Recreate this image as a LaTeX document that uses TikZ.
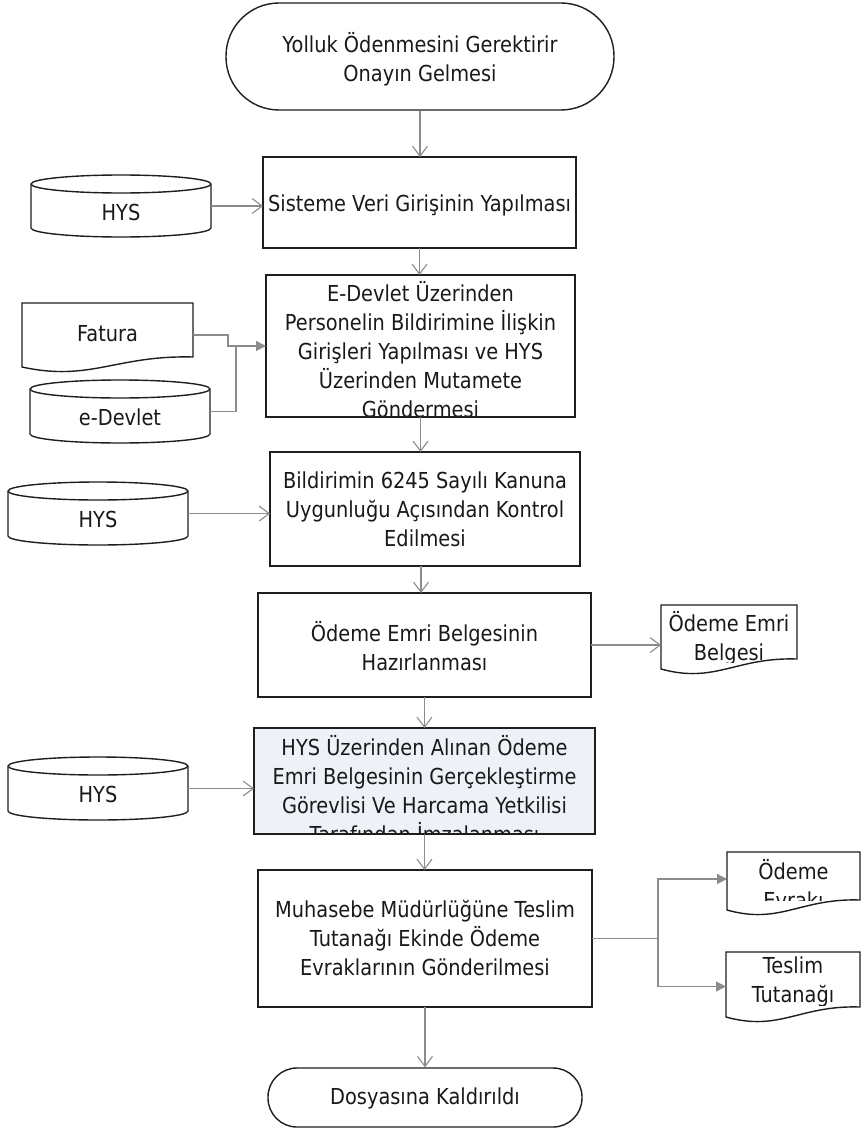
\documentclass[tikz,border=0pt]{standalone}
\usepackage{fontspec}
\setmainfont{DejaVu Sans}[FakeStretch=0.88]
\usetikzlibrary{arrows.meta,calc,fit}
\definecolor{lineC}{HTML}{1E1E1E}
\definecolor{connC}{HTML}{8C8C8C}
\definecolor{fillB}{HTML}{EEF1F7}
\tikzset{
  txt/.style={font=\fontsize{22}{29}\selectfont, align=center, inner sep=0pt, text=black!90},
  shapeline/.style={draw=lineC, line width=1.4pt},
  geo/.style={inner sep=0pt, outer sep=0pt},
  flow/.style={draw=connC, line width=1.3pt, -{Straight Barb[length=10pt,width=15pt,line width=1.1pt]}},
  flowf/.style={draw=connC, line width=1.3pt, -{Triangle[length=10pt,width=10pt]}},
  connl/.style={draw=connC, line width=1.3pt},
}
% database cylinder: name, x, y, height, text
\newcommand{\dbcyl}[5]{%
  \node[geo, minimum width=180pt, minimum height=#4pt] (#1) at (#2,#3) {};
  \draw[shapeline, fill=white] ($(#1.north west)+(0,-9)$) -- ($(#1.south west)+(0,9)$)
     arc[start angle=180,end angle=360,x radius=90pt,y radius=9pt]
     -- ($(#1.north east)+(0,-9)$)
     arc[start angle=0,end angle=180,x radius=90pt,y radius=9pt] -- cycle;
  \draw[shapeline] ($(#1.north west)+(0,-9)$) arc[start angle=180,end angle=360,x radius=90pt,y radius=9pt];
  \node[txt] (#1t) at ($(#1.center)+(0,-6)$) {#5};
}
% document shape: name, L, R, T, B, text, text y, text clip bottom
\newcommand{\docpath}[4]{(#1,#3) -- (#1,#4) .. controls ($(#1,#4)!0.4!(#2,#4)+(0,-15)$) and ($(#1,#4)!0.55!(#2,#4)+(0,12)$) .. (#2,#4+10) -- (#2,#3) -- cycle}
\newcommand{\docbox}[8]{%
  \node[geo, fit={(#2,#5) (#3,#4)}] (#1) {};
  \begin{scope}
    \clip \docpath{#2}{#3}{#4}{#5};
    \clip (#2,#4) rectangle (#3,#8);
    \node[txt] (#1t) at ($(#2,#7)!0.5!(#3,#7)$) {#6};
  \end{scope}
  \draw[shapeline] \docpath{#2}{#3}{#4}{#5};
}
\begin{document}
\begin{tikzpicture}[x=1pt,y=1pt]
\useasboundingbox[fill=white] (0,0) rectangle (862,-1129);

% start terminal
\node[shapeline, rounded corners=53pt, minimum width=388pt, minimum height=107pt, inner sep=0pt] (st) at (420,-56.5) {};
\node[txt] (stt) at (420,-59) {Yolluk Ödenmesini Gerektirir\\Onayın Gelmesi};

% box 1
\node[geo, minimum width=313pt, minimum height=91pt] (b1) at (419.5,-202.5) {};
\node[txt] (b1t) at (419.5,-205) {Sisteme Veri Girişinin Yapılması};
\draw[shapeline] (b1.south west) rectangle (b1.north east);

% box 2
\node[geo, minimum width=309pt, minimum height=142pt] (b2) at (420.5,-346) {};
\begin{scope}
  \clip (b2.south west) rectangle (b2.north east);
  \node[txt] (b2t) at (420.5,-350) {E-Devlet Üzerinden\\Personelin Bildirimine İlişkin\\Girişleri Yapılması ve HYS\\Üzerinden Mutamete\\Göndermesi};
\end{scope}
\draw[shapeline] (b2.south west) rectangle (b2.north east);

% box 3
\node[geo, minimum width=310pt, minimum height=114pt] (b3) at (425,-509) {};
\node[txt] (b3t) at (425,-509.5) {Bildirimin 6245 Sayılı Kanuna\\Uygunluğu Açısından Kontrol\\Edilmesi};
\draw[shapeline] (b3.south west) rectangle (b3.north east);

% box 4
\node[geo, minimum width=333pt, minimum height=104pt] (b4) at (424.5,-645) {};
\node[txt] (b4t) at (424.5,-646.5) {Ödeme Emri Belgesinin\\Hazırlanması};
\draw[shapeline] (b4.south west) rectangle (b4.north east);

% box 5
\node[geo, minimum width=341pt, minimum height=106pt] (b5) at (424.5,-781) {};
\fill[fillB] (b5.south west) rectangle (b5.north east);
\begin{scope}
  \clip (b5.south west) rectangle (b5.north east);
  \node[txt] (b5t) at (424.5,-789) {HYS Üzerinden Alınan Ödeme\\Emri Belgesinin Gerçekleştirme\\Görevlisi Ve Harcama Yetkilisi\\Tarafından İmzalanması};
\end{scope}
\draw[shapeline] (b5.south west) rectangle (b5.north east);

% box 6
\node[geo, minimum width=334pt, minimum height=137pt] (b6) at (425,-938.5) {};
\node[txt] (b6t) at (425,-938.5) {Muhasebe Müdürlüğüne Teslim\\Tutanağı Ekinde Ödeme\\Evraklarının Gönderilmesi};
\draw[shapeline] (b6.south west) rectangle (b6.north east);

% end terminal
\node[shapeline, rounded corners=29pt, minimum width=314pt, minimum height=59pt, inner sep=0pt] (en) at (425,-1097.5) {};
\node[txt] (ent) at (425,-1098) {Dosyasına Kaldırıldı};

% data stores
\dbcyl{h1}{121}{-206}{62}{HYS}
\dbcyl{ed}{120}{-411.5}{63}{e-Devlet}
\dbcyl{h2}{98}{-513.5}{63}{HYS}
\dbcyl{h3}{98}{-788.5}{63}{HYS}

% documents
\docbox{fat}{22}{193}{-303}{-367}{Fatura}{-334}{-400}
\docbox{oeb}{661}{797}{-605}{-669}{Ödeme Emri\\Belgesi}{-638}{-662}
\docbox{oev}{727}{860}{-852}{-910}{Ödeme\\Evrakı}{-884}{-900}
\docbox{tt}{726}{860}{-952}{-1017}{Teslim\\Tutanağı}{-982}{-1005}

% main flow
\draw[flow] (st.south) -- (st.south |- b1.north);
\draw[flow] (b1.south) -- (b1.south |- b2.north);
\draw[flow] (b2.south) -- (b2.south |- b3.north);
\draw[flow] ([xshift=-4pt]b3.south) -- ([xshift=-4pt]b3.south |- b4.north);
\draw[flow] (b4.south) -- (b4.south |- b5.north);
\draw[flow] (b5.south) -- (b5.south |- b6.north);
\draw[flow] (b6.south) -- (b6.south |- en.north);

% inputs
\draw[flow] (h1.east) -- (h1.east -| b1.west);
\coordinate (k1) at (228,-346);
\coordinate (k2) at (236,-346);
\draw[flowf] (fat.east) -- (fat.east -| k1) -- (k1) -- (b2.west);
\draw[connl] (ed.east) -- (ed.east -| k2) -- (k2);
\draw[flow] (h2.east) -- (h2.east -| b3.west);
\draw[flow] (h3.east) -- (h3.east -| b5.west);

% outputs
\draw[flow] (b4.east) -- (b4.east -| oeb.west);
\coordinate (j) at (658,-938.5);
\draw[connl] (b6.east) -- (j);
\draw[flowf] (j) |- ([yshift=2pt]oev.west);
\draw[flowf] (j) |- ([yshift=-2pt]tt.west);
\end{tikzpicture}
\end{document}
